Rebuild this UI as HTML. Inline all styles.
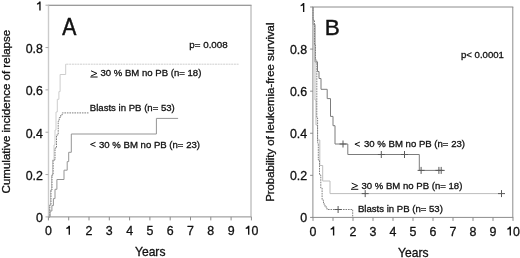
<!DOCTYPE html>
<html><head><meta charset="utf-8"><style>
html,body{margin:0;padding:0;background:#fff;width:520px;height:258px;overflow:hidden}
body{filter:grayscale(1)}
svg{display:block}
text{font-family:"Liberation Sans",sans-serif}
</style></head><body>
<svg width="520" height="258" viewBox="0 0 520 258" font-family='"Liberation Sans", sans-serif' fill="#111">
<rect width="520" height="258" fill="#fff"/>
<line x1="48.00" y1="5.2" x2="251.50" y2="5.2" stroke="#7a7a7a" stroke-width="1.1"/>
<line x1="48.00" y1="216.9" x2="251.50" y2="216.9" stroke="#8c8c8c" stroke-width="1"/>
<line x1="48.5" y1="5.2" x2="48.5" y2="216.9" stroke="#cbcbcb" stroke-width="1.4"/>
<line x1="251.0" y1="5.2" x2="251.0" y2="216.9" stroke="#a6a6a6" stroke-width="1"/>
<line x1="45.5" y1="216.90" x2="48.4" y2="216.90" stroke="#a8a8a8" stroke-width="1"/>
<text transform="translate(42.90 222.20) scale(1.0 1.02)" font-size="12.4" text-anchor="end" stroke="#111" stroke-width="0.3">0</text>
<line x1="45.5" y1="174.56" x2="48.4" y2="174.56" stroke="#a8a8a8" stroke-width="1"/>
<text transform="translate(42.90 179.86) scale(1.0 1.02)" font-size="12.4" text-anchor="end" stroke="#111" stroke-width="0.3">0.2</text>
<line x1="45.5" y1="132.22" x2="48.4" y2="132.22" stroke="#a8a8a8" stroke-width="1"/>
<text transform="translate(42.90 137.52) scale(1.0 1.02)" font-size="12.4" text-anchor="end" stroke="#111" stroke-width="0.3">0.4</text>
<line x1="45.5" y1="89.88" x2="48.4" y2="89.88" stroke="#a8a8a8" stroke-width="1"/>
<text transform="translate(42.90 95.18) scale(1.0 1.02)" font-size="12.4" text-anchor="end" stroke="#111" stroke-width="0.3">0.6</text>
<line x1="45.5" y1="47.54" x2="48.4" y2="47.54" stroke="#a8a8a8" stroke-width="1"/>
<text transform="translate(42.90 52.84) scale(1.0 1.02)" font-size="12.4" text-anchor="end" stroke="#111" stroke-width="0.3">0.8</text>
<line x1="45.5" y1="5.20" x2="48.4" y2="5.20" stroke="#a8a8a8" stroke-width="1"/>
<path d="M40.63 1.50V10.50H39.27V4.10L36.95 4.70V3.40Q38.65 3.00 39.27 1.50Z" fill="#111"/>
<line x1="48.40" y1="216.9" x2="48.40" y2="220.4" stroke="#8c8c8c" stroke-width="1"/>
<text transform="translate(48.40 234.80) scale(1.0 1.02)" font-size="12.4" text-anchor="middle" stroke="#111" stroke-width="0.3">0</text>
<line x1="68.70" y1="216.9" x2="68.70" y2="220.4" stroke="#8c8c8c" stroke-width="1"/>
<path d="M69.98 225.80V234.80H68.62V228.40L66.30 229.00V227.70Q68.00 227.30 68.62 225.80Z" fill="#111"/>
<line x1="89.00" y1="216.9" x2="89.00" y2="220.4" stroke="#8c8c8c" stroke-width="1"/>
<text transform="translate(89.00 234.80) scale(1.0 1.02)" font-size="12.4" text-anchor="middle" stroke="#111" stroke-width="0.3">2</text>
<line x1="109.30" y1="216.9" x2="109.30" y2="220.4" stroke="#8c8c8c" stroke-width="1"/>
<text transform="translate(109.30 234.80) scale(1.0 1.02)" font-size="12.4" text-anchor="middle" stroke="#111" stroke-width="0.3">3</text>
<line x1="129.60" y1="216.9" x2="129.60" y2="220.4" stroke="#8c8c8c" stroke-width="1"/>
<text transform="translate(129.60 234.80) scale(1.0 1.02)" font-size="12.4" text-anchor="middle" stroke="#111" stroke-width="0.3">4</text>
<line x1="149.90" y1="216.9" x2="149.90" y2="220.4" stroke="#8c8c8c" stroke-width="1"/>
<text transform="translate(149.90 234.80) scale(1.0 1.02)" font-size="12.4" text-anchor="middle" stroke="#111" stroke-width="0.3">5</text>
<line x1="170.20" y1="216.9" x2="170.20" y2="220.4" stroke="#8c8c8c" stroke-width="1"/>
<text transform="translate(170.20 234.80) scale(1.0 1.02)" font-size="12.4" text-anchor="middle" stroke="#111" stroke-width="0.3">6</text>
<line x1="190.50" y1="216.9" x2="190.50" y2="220.4" stroke="#8c8c8c" stroke-width="1"/>
<text transform="translate(190.50 234.80) scale(1.0 1.02)" font-size="12.4" text-anchor="middle" stroke="#111" stroke-width="0.3">7</text>
<line x1="210.80" y1="216.9" x2="210.80" y2="220.4" stroke="#8c8c8c" stroke-width="1"/>
<text transform="translate(210.80 234.80) scale(1.0 1.02)" font-size="12.4" text-anchor="middle" stroke="#111" stroke-width="0.3">8</text>
<line x1="231.10" y1="216.9" x2="231.10" y2="220.4" stroke="#8c8c8c" stroke-width="1"/>
<text transform="translate(231.10 234.80) scale(1.0 1.02)" font-size="12.4" text-anchor="middle" stroke="#111" stroke-width="0.3">9</text>
<line x1="251.40" y1="216.9" x2="251.40" y2="220.4" stroke="#8c8c8c" stroke-width="1"/>
<path d="M249.38 225.80V234.80H248.02V228.40L245.70 229.00V227.70Q247.40 227.30 248.02 225.80Z" fill="#111"/>
<text transform="translate(254.85 234.80) scale(1.0 1.02)" font-size="12.4" text-anchor="middle" stroke="#111" stroke-width="0.3">0</text>
<line x1="312.40" y1="7.0" x2="513.30" y2="7.0" stroke="#8c8c8c" stroke-width="1"/>
<line x1="312.40" y1="217.4" x2="513.30" y2="217.4" stroke="#8c8c8c" stroke-width="1"/>
<line x1="312.9" y1="7.0" x2="312.9" y2="217.4" stroke="#8c8c8c" stroke-width="1"/>
<line x1="512.8" y1="7.0" x2="512.8" y2="217.4" stroke="#8c8c8c" stroke-width="1"/>
<line x1="310.1" y1="217.40" x2="313.0" y2="217.40" stroke="#8c8c8c" stroke-width="1"/>
<text transform="translate(307.20 222.40) scale(1.0 1.02)" font-size="12.4" text-anchor="end" stroke="#111" stroke-width="0.3">0</text>
<line x1="310.1" y1="175.32" x2="313.0" y2="175.32" stroke="#8c8c8c" stroke-width="1"/>
<text transform="translate(307.20 180.32) scale(1.0 1.02)" font-size="12.4" text-anchor="end" stroke="#111" stroke-width="0.3">0.2</text>
<line x1="310.1" y1="133.24" x2="313.0" y2="133.24" stroke="#8c8c8c" stroke-width="1"/>
<text transform="translate(307.20 138.24) scale(1.0 1.02)" font-size="12.4" text-anchor="end" stroke="#111" stroke-width="0.3">0.4</text>
<line x1="310.1" y1="91.16" x2="313.0" y2="91.16" stroke="#8c8c8c" stroke-width="1"/>
<text transform="translate(307.20 96.16) scale(1.0 1.02)" font-size="12.4" text-anchor="end" stroke="#111" stroke-width="0.3">0.6</text>
<line x1="310.1" y1="49.08" x2="313.0" y2="49.08" stroke="#8c8c8c" stroke-width="1"/>
<text transform="translate(307.20 54.08) scale(1.0 1.02)" font-size="12.4" text-anchor="end" stroke="#111" stroke-width="0.3">0.8</text>
<line x1="310.1" y1="7.00" x2="313.0" y2="7.00" stroke="#8c8c8c" stroke-width="1"/>
<path d="M304.33 3.00V12.00H302.97V5.60L300.65 6.20V4.90Q302.35 4.50 302.97 3.00Z" fill="#111"/>
<line x1="313.00" y1="217.4" x2="313.00" y2="220.9" stroke="#8c8c8c" stroke-width="1"/>
<text transform="translate(313.00 235.60) scale(1.0 1.02)" font-size="12.4" text-anchor="middle" stroke="#111" stroke-width="0.3">0</text>
<line x1="333.00" y1="217.4" x2="333.00" y2="220.9" stroke="#8c8c8c" stroke-width="1"/>
<path d="M334.28 226.60V235.60H332.92V229.20L330.60 229.80V228.50Q332.30 228.10 332.92 226.60Z" fill="#111"/>
<line x1="353.00" y1="217.4" x2="353.00" y2="220.9" stroke="#8c8c8c" stroke-width="1"/>
<text transform="translate(353.00 235.60) scale(1.0 1.02)" font-size="12.4" text-anchor="middle" stroke="#111" stroke-width="0.3">2</text>
<line x1="373.00" y1="217.4" x2="373.00" y2="220.9" stroke="#8c8c8c" stroke-width="1"/>
<text transform="translate(373.00 235.60) scale(1.0 1.02)" font-size="12.4" text-anchor="middle" stroke="#111" stroke-width="0.3">3</text>
<line x1="393.00" y1="217.4" x2="393.00" y2="220.9" stroke="#8c8c8c" stroke-width="1"/>
<text transform="translate(393.00 235.60) scale(1.0 1.02)" font-size="12.4" text-anchor="middle" stroke="#111" stroke-width="0.3">4</text>
<line x1="413.00" y1="217.4" x2="413.00" y2="220.9" stroke="#8c8c8c" stroke-width="1"/>
<text transform="translate(413.00 235.60) scale(1.0 1.02)" font-size="12.4" text-anchor="middle" stroke="#111" stroke-width="0.3">5</text>
<line x1="433.00" y1="217.4" x2="433.00" y2="220.9" stroke="#8c8c8c" stroke-width="1"/>
<text transform="translate(433.00 235.60) scale(1.0 1.02)" font-size="12.4" text-anchor="middle" stroke="#111" stroke-width="0.3">6</text>
<line x1="453.00" y1="217.4" x2="453.00" y2="220.9" stroke="#8c8c8c" stroke-width="1"/>
<text transform="translate(453.00 235.60) scale(1.0 1.02)" font-size="12.4" text-anchor="middle" stroke="#111" stroke-width="0.3">7</text>
<line x1="473.00" y1="217.4" x2="473.00" y2="220.9" stroke="#8c8c8c" stroke-width="1"/>
<text transform="translate(473.00 235.60) scale(1.0 1.02)" font-size="12.4" text-anchor="middle" stroke="#111" stroke-width="0.3">8</text>
<line x1="493.00" y1="217.4" x2="493.00" y2="220.9" stroke="#8c8c8c" stroke-width="1"/>
<text transform="translate(493.00 235.60) scale(1.0 1.02)" font-size="12.4" text-anchor="middle" stroke="#111" stroke-width="0.3">9</text>
<line x1="513.00" y1="217.4" x2="513.00" y2="220.9" stroke="#8c8c8c" stroke-width="1"/>
<path d="M510.98 226.60V235.60H509.62V229.20L507.30 229.80V228.50Q509.00 228.10 509.62 226.60Z" fill="#111"/>
<text transform="translate(516.45 235.60) scale(1.0 1.02)" font-size="12.4" text-anchor="middle" stroke="#111" stroke-width="0.3">0</text>

<path d="M48.4 216.9H50V211H51.9V205.6H53.4V198.6H55V189.3H56.9V179.5H64V170.2H67.2V161.6H68.7V152.3H71.3V134H156.4V118.4H178.1" stroke="#959595" stroke-width="1" fill="none"/>
<path d="M48.4 216.9H49.5V205H50.5V190H51.5V175H52.5V160H54V145H55V130H56V112H57.3V99.3H58.9V91.6H60.1V74.5H65.7V64.2H66.5" stroke="#cdcdcd" stroke-width="1" fill="none"/>
<path d="M66.5 64.2H239" stroke="#cfcfcf" stroke-width="1" fill="none" stroke-dasharray="2 0.7"/>
<path d="M48.4 216.9H49.8V205H51V190H52V175H53.2V160H55V148H56.5V135H58.2V121H59.2V117.5H60.7V115H62.2V112.9H88.8" stroke="#808080" stroke-width="1" fill="none" stroke-dasharray="1.6 0.9"/>


<path d="M313 7V24.4H315V62H317.5V71.5H319V78.5H321V89.3H327.2V98.6H330.5V116.4H333V125.7H335V144H347.8V154.5H419.3V170.4H443.5" stroke="#7c7c7c" stroke-width="1" fill="none"/>
<path d="M313 7V30H314V50H315V100H316V125H317.5V140H319.8V165.5H322.7V181H330V193.6H501.5" stroke="#bdbdbd" stroke-width="1" fill="none"/>
<path d="M313 7V20H314.5V45H315.5V60H316.8V118H317.6V143H318.3V160H319.5V175H320.8V188H322.1V200H323.5V204H325V207H327V209.5H352.7V217.4" stroke="#808080" stroke-width="1" fill="none" stroke-dasharray="1.6 0.9"/>
<path d="M339.50 144.00H346.50M343.00 140.50V147.50" stroke="#5a5a5a" stroke-width="1" fill="none"/>
<path d="M377.80 154.50H384.80M381.30 151.00V158.00" stroke="#5a5a5a" stroke-width="1" fill="none"/>
<path d="M401.00 154.50H408.00M404.50 151.00V158.00" stroke="#5a5a5a" stroke-width="1" fill="none"/>
<path d="M417.60 170.40H424.60M421.10 166.90V173.90" stroke="#5a5a5a" stroke-width="1" fill="none"/>
<path d="M435.40 170.40H442.40M438.90 166.90V173.90" stroke="#5a5a5a" stroke-width="1" fill="none"/>
<path d="M437.70 170.40H444.70M441.20 166.90V173.90" stroke="#5a5a5a" stroke-width="1" fill="none"/>
<path d="M361.70 193.60H368.70M365.20 190.10V197.10" stroke="#5a5a5a" stroke-width="1" fill="none"/>
<path d="M498.00 193.60H505.00M501.50 190.10V197.10" stroke="#5a5a5a" stroke-width="1" fill="none"/>
<path d="M334.60 209.50H341.60M338.10 206.00V213.00" stroke="#5a5a5a" stroke-width="1" fill="none"/>

<!-- panel letters -->
<text transform="translate(62.2 34.6) scale(0.94 1.065)" font-size="22.5" stroke="#111" stroke-width="0.5">A</text>
<text x="324.8" y="35" font-size="22.5" stroke="#111" stroke-width="0.45">B</text>
<!-- p values -->
<text transform="translate(189.30 47.60) scale(1.0 0.92)" font-size="9.8" stroke="#111" stroke-width="0.3">p= 0.008</text>
<text transform="translate(461.00 57.90) scale(1.0 0.92)" font-size="9.6" stroke="#111" stroke-width="0.3">p&lt; 0.0001</text>
<!-- Years -->
<text transform="translate(150.20 255.50) scale(1.0 1.12)" font-size="12.1" text-anchor="middle" stroke="#111" stroke-width="0.3">Years</text>
<text transform="translate(413.30 256.80) scale(1.0 1.12)" font-size="12.1" text-anchor="middle" stroke="#111" stroke-width="0.3">Years</text>
<!-- y titles -->
<text transform="translate(10.3 111.6) rotate(-90)" font-size="11.55" text-anchor="middle" stroke="#111" stroke-width="0.3">Cumulative incidence of relapse</text>
<text transform="translate(274.3 112.2) rotate(-90)" font-size="11.37" text-anchor="middle" stroke="#111" stroke-width="0.3">Probability of leukemia-free survival</text>
<!-- curve labels A -->
<path d="M91.00 70.80L96.90 73.40L91.00 76.00M90.30 77.00H97.60" stroke="#111" stroke-width="1.0" fill="none"/>
<text transform="translate(100.40 76.30) scale(1.0 1.04)" font-size="9.6" stroke="#111" stroke-width="0.3">30 % BM no PB (n= 18)</text>
<text transform="translate(89.80 110.80) scale(1.0 1.04)" font-size="9.6" stroke="#111" stroke-width="0.3">Blasts in PB (n= 53)</text>
<path d="M95.50 142.30L90.50 144.40L95.50 146.50" stroke="#111" stroke-width="1.0" fill="none"/>
<text transform="translate(99.00 148.00) scale(1.0 1.04)" font-size="9.6" stroke="#111" stroke-width="0.3">30 % BM no PB (n= 23)</text>
<!-- curve labels B -->
<path d="M359.90 142.10L354.90 144.20L359.90 146.30" stroke="#111" stroke-width="1.0" fill="none"/>
<text transform="translate(364.00 147.00) scale(1.0 1.04)" font-size="9.6" stroke="#111" stroke-width="0.3">30 % BM no PB (n= 23)</text>
<path d="M351.70 183.10L357.60 185.70L351.70 188.30M351.00 189.30H358.30" stroke="#111" stroke-width="1.0" fill="none"/>
<text transform="translate(361.40 188.60) scale(1.0 1.04)" font-size="9.6" stroke="#111" stroke-width="0.3">30 % BM no PB (n= 18)</text>
<text transform="translate(357.90 212.40) scale(1.0 1.04)" font-size="9.6" stroke="#111" stroke-width="0.3">Blasts in PB (n= 53)</text>
</svg>
</body></html>
